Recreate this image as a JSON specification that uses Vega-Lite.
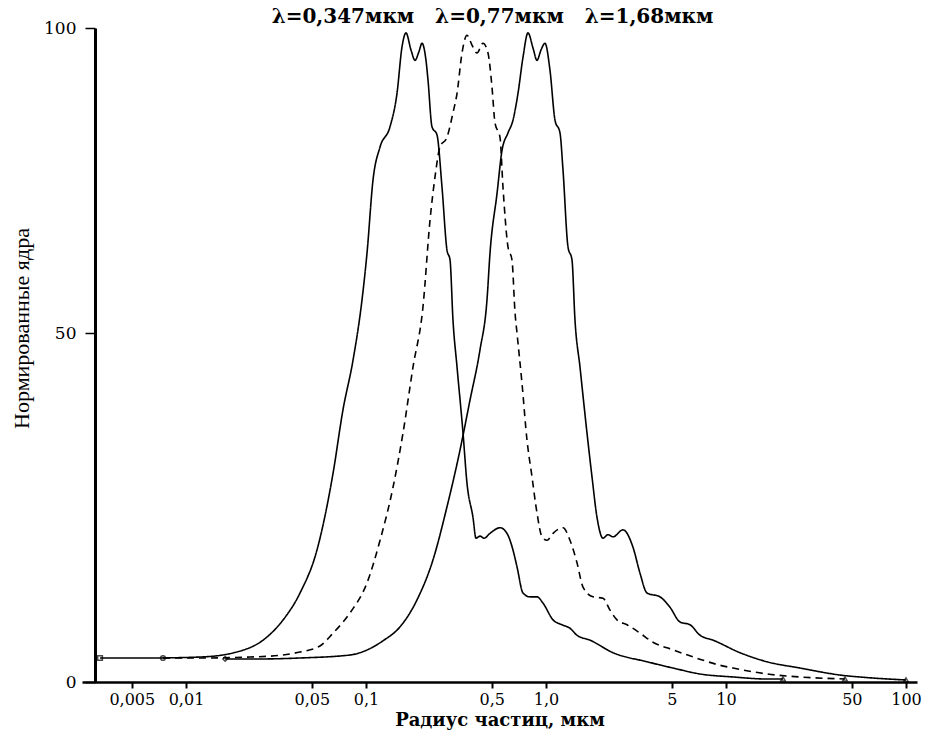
{
  "$schema": "https://vega.github.io/schema/vega-lite/v6.json",
  "width": 835,
  "height": 654,
  "autosize": {"type": "none"},
  "padding": {"left": 82, "top": 28, "right": 15, "bottom": 52},
  "background": "white",
  "title": {
    "text": "λ=0,347мкм\u00a0\u00a0\u00a0λ=0,77мкм\u00a0\u00a0\u00a0λ=1,68мкм",
    "font": "DejaVu Serif",
    "fontSize": 20,
    "fontWeight": "bold",
    "color": "black",
    "anchor": "middle",
    "dx": -7,
    "dy": 12,
    "offset": 4
  },
  "config": {
    "view": {"stroke": null},
    "axis": {
      "grid": false,
      "domainColor": "black",
      "tickColor": "black",
      "labelColor": "black",
      "titleColor": "black"
    }
  },
  "datasets": {
    "curves": [
      {"s": "a", "x": 0.00333, "y": 3.44}, {"s": "a", "x": 0.00631, "y": 3.44}, {"s": "a", "x": 0.0120, "y": 3.58}, {"s": "a", "x": 0.0182, "y": 4.16}, {"s": "a", "x": 0.0282, "y": 6.45}, {"s": "a", "x": 0.0346, "y": 8.88}, {"s": "a", "x": 0.0430, "y": 12.75}, {"s": "a", "x": 0.0534, "y": 18.9}, {"s": "a", "x": 0.0656, "y": 29.9}, {"s": "a", "x": 0.0745, "y": 39.0}, {"s": "a", "x": 0.0847, "y": 46.1}, {"s": "a", "x": 0.0950, "y": 55.4}, {"s": "a", "x": 0.1013, "y": 63.1}, {"s": "a", "x": 0.1094, "y": 75.1}, {"s": "a", "x": 0.1197, "y": 80.5}, {"s": "a", "x": 0.1359, "y": 83.8}, {"s": "a", "x": 0.1487, "y": 89.3}, {"s": "a", "x": 0.1585, "y": 96.9}, {"s": "a", "x": 0.1668, "y": 99.2}, {"s": "a", "x": 0.1778, "y": 96.4}, {"s": "a", "x": 0.1872, "y": 94.7}, {"s": "a", "x": 0.1968, "y": 96.1}, {"s": "a", "x": 0.2047, "y": 97.5}, {"s": "a", "x": 0.2154, "y": 94.7}, {"s": "a", "x": 0.2210, "y": 91.5}, {"s": "a", "x": 0.2326, "y": 83.8}, {"s": "a", "x": 0.2479, "y": 82.5}, {"s": "a", "x": 0.2644, "y": 73.9}, {"s": "a", "x": 0.2818, "y": 63.6}, {"s": "a", "x": 0.2929, "y": 62.0}, {"s": "a", "x": 0.3043, "y": 52.1}, {"s": "a", "x": 0.3205, "y": 45.1}, {"s": "a", "x": 0.3459, "y": 35.7}, {"s": "a", "x": 0.3639, "y": 28.5}, {"s": "a", "x": 0.3929, "y": 23.6}, {"s": "a", "x": 0.4084, "y": 20.6}, {"s": "a", "x": 0.4299, "y": 20.9}, {"s": "a", "x": 0.4529, "y": 20.6}, {"s": "a", "x": 0.4886, "y": 21.3}, {"s": "a", "x": 0.5550, "y": 22.1}, {"s": "a", "x": 0.6070, "y": 21.3}, {"s": "a", "x": 0.6556, "y": 18.9}, {"s": "a", "x": 0.6901, "y": 16.5}, {"s": "a", "x": 0.7450, "y": 12.75}, {"s": "a", "x": 0.8147, "y": 12.2}, {"s": "a", "x": 0.8913, "y": 12.2}, {"s": "a", "x": 0.9624, "y": 11.3}, {"s": "a", "x": 1.094, "y": 8.9}, {"s": "a", "x": 1.227, "y": 8.2}, {"s": "a", "x": 1.359, "y": 7.7}, {"s": "a", "x": 1.486, "y": 6.7}, {"s": "a", "x": 1.755, "y": 6.0}, {"s": "a", "x": 2.356, "y": 4.2}, {"s": "a", "x": 3.640, "y": 2.9}, {"s": "a", "x": 5.077, "y": 2.0}, {"s": "a", "x": 7.171, "y": 1.15}, {"s": "a", "x": 10.94, "y": 0.72}, {"s": "a", "x": 16.89, "y": 0.43}, {"s": "a", "x": 20.73, "y": 0.43},
      {"s": "b", "x": 0.00745, "y": 3.44}, {"s": "b", "x": 0.0120, "y": 3.44}, {"s": "b", "x": 0.0227, "y": 3.58}, {"s": "b", "x": 0.0346, "y": 3.87}, {"s": "b", "x": 0.0430, "y": 4.30}, {"s": "b", "x": 0.0555, "y": 5.16}, {"s": "b", "x": 0.0656, "y": 7.0}, {"s": "b", "x": 0.0815, "y": 9.9}, {"s": "b", "x": 0.1013, "y": 14.2}, {"s": "b", "x": 0.1197, "y": 20.3}, {"s": "b", "x": 0.1413, "y": 27.9}, {"s": "b", "x": 0.1606, "y": 35.7}, {"s": "b", "x": 0.1824, "y": 45.1}, {"s": "b", "x": 0.2073, "y": 54.3}, {"s": "b", "x": 0.2268, "y": 68.5}, {"s": "b", "x": 0.2418, "y": 75.6}, {"s": "b", "x": 0.2576, "y": 80.5}, {"s": "b", "x": 0.2818, "y": 82.1}, {"s": "b", "x": 0.3043, "y": 86.1}, {"s": "b", "x": 0.3205, "y": 89.3}, {"s": "b", "x": 0.3415, "y": 95.9}, {"s": "b", "x": 0.3639, "y": 98.8}, {"s": "b", "x": 0.3880, "y": 97.2}, {"s": "b", "x": 0.4137, "y": 95.9}, {"s": "b", "x": 0.4467, "y": 97.5}, {"s": "b", "x": 0.4762, "y": 95.9}, {"s": "b", "x": 0.5012, "y": 90.3}, {"s": "b", "x": 0.5210, "y": 84.4}, {"s": "b", "x": 0.5550, "y": 82.1}, {"s": "b", "x": 0.5768, "y": 73.9}, {"s": "b", "x": 0.6150, "y": 64.1}, {"s": "b", "x": 0.6471, "y": 62.0}, {"s": "b", "x": 0.6730, "y": 53.3}, {"s": "b", "x": 0.6901, "y": 50.0}, {"s": "b", "x": 0.7356, "y": 42.8}, {"s": "b", "x": 0.7838, "y": 34.7}, {"s": "b", "x": 0.8360, "y": 29.4}, {"s": "b", "x": 0.8913, "y": 24.2}, {"s": "b", "x": 0.9501, "y": 20.8}, {"s": "b", "x": 1.013, "y": 20.3}, {"s": "b", "x": 1.094, "y": 21.3}, {"s": "b", "x": 1.243, "y": 22.1}, {"s": "b", "x": 1.359, "y": 20.3}, {"s": "b", "x": 1.486, "y": 17.1}, {"s": "b", "x": 1.605, "y": 13.6}, {"s": "b", "x": 1.824, "y": 12.2}, {"s": "b", "x": 2.073, "y": 12.0}, {"s": "b", "x": 2.268, "y": 10.3}, {"s": "b", "x": 2.479, "y": 8.9}, {"s": "b", "x": 2.818, "y": 8.2}, {"s": "b", "x": 3.327, "y": 7.0}, {"s": "b", "x": 3.929, "y": 5.7}, {"s": "b", "x": 5.077, "y": 4.6}, {"s": "b", "x": 6.902, "y": 3.4}, {"s": "b", "x": 9.26, "y": 2.4}, {"s": "b", "x": 10.94, "y": 2.0}, {"s": "b", "x": 16.89, "y": 1.15}, {"s": "b", "x": 25.76, "y": 0.72}, {"s": "b", "x": 45.8, "y": 0.43},
      {"s": "c", "x": 0.0165, "y": 3.3}, {"s": "c", "x": 0.0258, "y": 3.3}, {"s": "c", "x": 0.0430, "y": 3.44}, {"s": "c", "x": 0.0815, "y": 3.87}, {"s": "c", "x": 0.1242, "y": 5.9}, {"s": "c", "x": 0.1545, "y": 7.9}, {"s": "c", "x": 0.1919, "y": 11.75}, {"s": "c", "x": 0.2356, "y": 17.5}, {"s": "c", "x": 0.2818, "y": 25.1}, {"s": "c", "x": 0.3327, "y": 33.2}, {"s": "c", "x": 0.3784, "y": 40.4}, {"s": "c", "x": 0.4299, "y": 47.6}, {"s": "c", "x": 0.4700, "y": 55.4}, {"s": "c", "x": 0.4886, "y": 63.1}, {"s": "c", "x": 0.5346, "y": 72.9}, {"s": "c", "x": 0.5702, "y": 80.0}, {"s": "c", "x": 0.6150, "y": 82.8}, {"s": "c", "x": 0.6556, "y": 84.9}, {"s": "c", "x": 0.6990, "y": 89.3}, {"s": "c", "x": 0.7450, "y": 95.2}, {"s": "c", "x": 0.7943, "y": 99.2}, {"s": "c", "x": 0.8472, "y": 96.7}, {"s": "c", "x": 0.8913, "y": 94.7}, {"s": "c", "x": 0.9380, "y": 96.4}, {"s": "c", "x": 0.9873, "y": 97.5}, {"s": "c", "x": 1.052, "y": 93.1}, {"s": "c", "x": 1.122, "y": 84.9}, {"s": "c", "x": 1.196, "y": 82.8}, {"s": "c", "x": 1.243, "y": 76.7}, {"s": "c", "x": 1.325, "y": 64.1}, {"s": "c", "x": 1.394, "y": 62.0}, {"s": "c", "x": 1.449, "y": 52.1}, {"s": "c", "x": 1.545, "y": 45.1}, {"s": "c", "x": 1.689, "y": 35.7}, {"s": "c", "x": 1.801, "y": 29.4}, {"s": "c", "x": 1.920, "y": 23.6}, {"s": "c", "x": 2.073, "y": 20.6}, {"s": "c", "x": 2.209, "y": 21.1}, {"s": "c", "x": 2.356, "y": 20.8}, {"s": "c", "x": 2.677, "y": 21.8}, {"s": "c", "x": 3.043, "y": 19.3}, {"s": "c", "x": 3.327, "y": 15.6}, {"s": "c", "x": 3.640, "y": 12.75}, {"s": "c", "x": 4.297, "y": 12.2}, {"s": "c", "x": 4.885, "y": 10.7}, {"s": "c", "x": 5.550, "y": 8.6}, {"s": "c", "x": 6.310, "y": 8.2}, {"s": "c", "x": 7.171, "y": 6.7}, {"s": "c", "x": 8.47, "y": 6.0}, {"s": "c", "x": 11.96, "y": 4.2}, {"s": "c", "x": 16.89, "y": 2.9}, {"s": "c", "x": 25.76, "y": 2.0}, {"s": "c", "x": 43.0, "y": 1.0}, {"s": "c", "x": 65.6, "y": 0.57}, {"s": "c", "x": 100, "y": 0.29}
    ],
    "markers": [
      {"m": "start a", "x": 0.00333, "y": 3.44},
      {"m": "start b", "x": 0.00745, "y": 3.44},
      {"m": "start c", "x": 0.0165, "y": 3.3},
      {"m": "end", "x": 20.73, "y": 0.43},
      {"m": "end", "x": 45.8, "y": 0.43},
      {"m": "end", "x": 100, "y": 0.29}
    ]
  },
  "encoding": {
    "x": {
      "field": "x",
      "type": "quantitative",
      "scale": {"type": "log", "domain": [0.002644, 115.1], "nice": false},
      "axis": {
        "values": [0.005, 0.01, 0.05, 0.1, 0.5, 1, 5, 10, 50, 100],
        "labelExpr": "datum.value == 1 ? '1,0' : replace(format(datum.value, '~g'), '.', ',')",
        "labelFont": "DejaVu Serif",
        "labelFontSize": 16,
        "labelPadding": 3,
        "tickSize": 6,
        "tickWidth": 2,
        "domainWidth": 2.5,
        "labelFlush": false,
        "labelOverlap": false,
        "title": "Радиус частиц, мкм",
        "titleFont": "DejaVu Serif",
        "titleFontSize": 18,
        "titleFontWeight": "bold",
        "titlePadding": 4
      }
    },
    "y": {
      "field": "y",
      "type": "quantitative",
      "scale": {"domain": [0, 50, 100], "range": [654, 305, 0], "nice": false, "zero": false},
      "axis": {
        "values": [0, 50, 100],
        "offset": -13,
        "labelFont": "DejaVu Serif",
        "labelFontSize": 17,
        "labelPadding": 9,
        "tickSize": 10,
        "tickWidth": 1.5,
        "domainWidth": 3,
        "title": "Нормированные ядра",
        "titleFont": "Liberation Serif",
        "titleFontSize": 22,
        "titleFontWeight": "normal",
        "titlePadding": 10,
        "titleY": 300,
        "titleAlign": "center"
      }
    }
  },
  "layer": [
    {
      "data": {"name": "curves"},
      "mark": {"type": "line", "strokeWidth": 1.6, "color": "black", "clip": false, "interpolate": "monotone"},
      "encoding": {
        "detail": {"field": "s", "type": "nominal"},
        "strokeDash": {
          "field": "s",
          "type": "nominal",
          "scale": {"domain": ["a", "b", "c"], "range": [[1, 0], [7, 5], [1, 0]]},
          "legend": null
        }
      }
    },
    {
      "data": {"name": "markers"},
      "mark": {"type": "point", "filled": false, "color": "black", "strokeWidth": 1.5, "size": 22, "clip": false},
      "encoding": {
        "shape": {
          "field": "m",
          "type": "nominal",
          "scale": {"domain": ["start a", "start b", "start c", "end"], "range": ["square", "circle", "diamond", "triangle-up"]},
          "legend": null
        }
      }
    }
  ]
}
